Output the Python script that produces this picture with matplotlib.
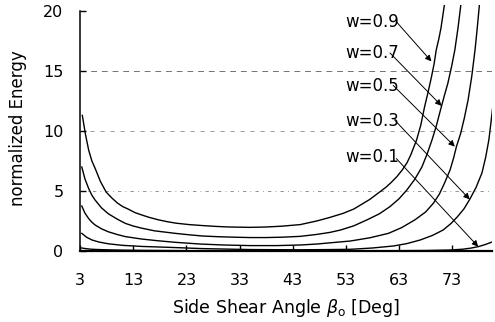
import matplotlib
matplotlib.use('Agg')
import matplotlib.pyplot as plt

plt.rcParams['font.family'] = ['DejaVu Sans']
plt.rcParams['mathtext.fontset'] = 'dejavusans'

# values (beta in deg, normalized energy)
beta_w09 = [3.4, 4.0, 4.6, 5.2, 5.8, 6.8, 7.9, 9, 10, 11, 12, 13.3, 14.6, 16, 17.7,
            19.3, 21, 23.5, 26, 28.5, 31, 35, 38, 41, 44.4, 47.5, 50, 52.5, 54.5,
            56, 57.5, 59, 60.5, 61.5, 62.6, 63.6, 64.5, 65.2, 66.3, 67.1, 67.8,
            68.5, 69.1, 69.6, 70, 70.5, 70.9, 71.5, 71.8]
E_w09 = [11.3, 9.7, 8.4, 7.5, 6.9, 5.8, 4.9, 4.4, 4.0, 3.7, 3.5, 3.2, 3.0, 2.8, 2.6,
         2.45, 2.32, 2.2, 2.12, 2.05, 2.0, 1.97, 2.0, 2.07, 2.2, 2.5, 2.8, 3.14, 3.5,
         3.9, 4.3, 4.8, 5.3, 5.7, 6.2, 6.75, 7.35, 8.0, 9.25, 10.5, 12.0,
         13.3, 14.5, 15.6, 16.75, 17.7, 18.6, 20.4, 21.0]

beta_w07 = [3.3, 3.9, 4.6, 5.2, 5.8, 7, 8.3, 10, 11.5, 13, 14.6, 17, 20.9, 23.5, 26,
            29, 32, 35, 38, 41, 44.4, 47.5, 50, 52, 54.5, 57, 59.3, 61.3, 63, 64.5,
            66, 67.3, 68.3, 69.2, 70, 70.8, 71.5, 72.2, 72.9, 73.5, 74.1, 74.6, 74.8]
E_w07 = [7.0, 6.0, 5.2, 4.65, 4.25, 3.6, 3.1, 2.65, 2.3, 2.08, 1.9, 1.68, 1.47, 1.35,
         1.25, 1.19, 1.15, 1.12, 1.12, 1.15, 1.22, 1.38, 1.55, 1.75, 2.1, 2.6, 3.1,
         3.7, 4.35, 5.1, 6.0, 7.0, 8.1, 9.25, 10.4, 11.75, 12.9, 14.0, 15.4, 16.75,
         18.6, 20.4, 21.0]

beta_w05 = [3.3, 3.9, 4.6, 5.2, 5.8, 7, 8.3, 10, 11.5, 14.5, 17.7, 21, 25.6, 30, 35,
            40, 44.4, 47.5, 50, 53.8, 57.5, 61, 63.5, 66, 68, 69.5, 70.6, 71.5, 72.6,
            73.3, 73.8, 74.6, 75.3, 76, 76.7, 77.3, 77.7, 78.1, 78.2]
E_w05 = [3.75, 3.15, 2.7, 2.4, 2.17, 1.85, 1.6, 1.37, 1.2, 1.0, 0.85, 0.72, 0.58, 0.5,
         0.45, 0.45, 0.5, 0.58, 0.68, 0.83, 1.1, 1.47, 1.95, 2.6, 3.25, 4.0, 4.75,
         5.6, 6.75, 7.8, 8.7, 9.8, 11.1, 12.6, 14.6, 16.75, 18.5, 20.4, 21.0]

beta_w03 = [3.3, 4.2, 5.2, 6.5, 8.3, 11, 14.6, 20, 26, 35, 44, 50, 53.8, 58, 62, 64.5,
            67, 69.3, 71.3, 72.8, 74, 75.2, 76.3, 77.5, 78.6, 79.3, 79.9, 80.3, 80.7]
E_w03 = [1.47, 1.15, 0.92, 0.75, 0.6, 0.47, 0.38, 0.3, 0.2, 0.12, 0.1, 0.12, 0.14,
         0.25, 0.42, 0.62, 0.92, 1.3, 1.75, 2.3, 2.86, 3.5, 4.3, 5.3, 6.5, 7.8, 9.25,
         10.7, 12.3]

beta_w01 = [3.3, 4, 5, 6.5, 8, 11, 15, 25, 40, 60, 68, 72.5, 75, 76.5, 77.9, 79.3, 80.7]
E_w01 = [0.25, 0.2, 0.15, 0.12, 0.1, 0.07, 0.05, 0.02, 0.01, 0.02, 0.04, 0.08, 0.15,
         0.24, 0.36, 0.55, 0.78]

labels = ['w=0.9', 'w=0.7', 'w=0.5', 'w=0.3', 'w=0.1']
label_pos = [(52.8, 19.1), (52.8, 16.5), (52.8, 13.75), (52.8, 10.86), (52.8, 7.86)]
arrow_tail = [(62.5, 19.1), (61.3, 16.5), (61.9, 13.8), (62.2, 10.9), (62.5, 7.7)]
arrow_tip = [(69.1, 15.8), (71.0, 12.1), (73.5, 8.7), (76.3, 4.3), (77.9, 0.36)]

xticks = [3, 13, 23, 33, 43, 53, 63, 73]
yticks = [0, 5, 10, 15, 20]

fig = plt.figure(figsize=(4.95, 3.22), dpi=100)
ax = fig.add_axes([0.162, 0.2205, 0.832, 0.764])

# dashed reference lines
ax.axhline(15, color='0.45', lw=0.7, ls=(0, (6, 5)), zorder=0)
ax.axhline(10, color='0.55', lw=0.6, ls=(0, (5, 7)), zorder=0)
ax.axhline(5, color='0.5', lw=0.6, ls=(0, (4, 5, 1, 5)), zorder=0)

for b, e in [(beta_w09, E_w09), (beta_w07, E_w07), (beta_w05, E_w05),
             (beta_w03, E_w03), (beta_w01, E_w01)]:
    ax.plot(b, e, color='black', lw=1.0)

for lab, pos, tail, tip in zip(labels, label_pos, arrow_tail, arrow_tip):
    ax.text(pos[0], pos[1], lab, fontsize=12, va='center', ha='left')
    ax.annotate('', xy=tip, xytext=tail,
                arrowprops=dict(arrowstyle='-|>', color='black', lw=0.7,
                                mutation_scale=9, shrinkA=0, shrinkB=0))

ax.set_xlim(3, 80.5)
ax.set_ylim(0, 20.5)
ax.set_xticks(xticks)
ax.set_yticks(yticks)
ax.spines['top'].set_visible(False)
ax.spines['right'].set_visible(False)
ax.spines['left'].set_bounds(0, 20)
ax.spines['left'].set_linewidth(1.1)
ax.spines['bottom'].set_linewidth(1.6)
ax.tick_params(axis='both', direction='in', length=4, width=1, labelsize=11.5)
ax.tick_params(axis='x', pad=16)
ax.tick_params(axis='y', pad=12)

ax.set_xlabel(r'Side Shear Angle $\beta_\mathrm{o}$ [Deg]', fontsize=12.5, labelpad=6)
ax.set_ylabel('normalized Energy', fontsize=12)
ax.yaxis.set_label_coords(-0.13, 0.5)

plt.savefig('out.png', dpi=100)
